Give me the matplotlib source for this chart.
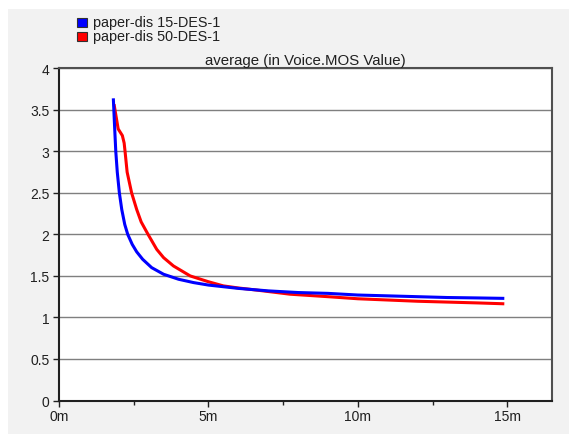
import matplotlib
matplotlib.use("Agg")
import matplotlib.pyplot as plt
from matplotlib.patches import Rectangle
import numpy as np

plt.rcParams['font.family'] = ['Liberation Sans', 'DejaVu Sans']

# time in minutes, value in MOS
t_15 = [1.82, 1.86, 1.90, 1.95, 2.02, 2.10, 2.20, 2.30, 2.45, 2.60, 2.80, 3.10, 3.50,
        4.00, 4.50, 5.00, 6.00, 7.00, 8.00, 9.00, 10.0, 11.0, 12.0, 13.0, 14.0, 14.85]
mos_15 = [3.62, 3.30, 3.00, 2.75, 2.50, 2.30, 2.12, 2.00, 1.88, 1.79, 1.70, 1.60, 1.52,
          1.46, 1.42, 1.39, 1.35, 1.32, 1.30, 1.29, 1.27, 1.26, 1.25, 1.24, 1.235, 1.23]

t_50 = [1.85, 1.98, 2.12, 2.18, 2.21, 2.28, 2.43, 2.60, 2.75, 2.98, 3.27, 3.50, 3.83,
        4.39, 5.00, 5.50, 6.00, 6.60, 7.73, 9.00, 10.0, 11.0, 12.0, 13.0, 14.0, 14.85]
mos_50 = [3.55, 3.27, 3.19, 3.10, 3.00, 2.75, 2.50, 2.30, 2.15, 2.00, 1.82, 1.72, 1.62,
          1.50, 1.43, 1.38, 1.355, 1.33, 1.28, 1.25, 1.225, 1.21, 1.195, 1.185, 1.175, 1.165]

labels = ['paper-dis 15-DES-1', 'paper-dis 50-DES-1']
colors = ['#0000ff', '#ff0000']
title = 'average (in Voice.MOS Value)'
x_ticks = [0, 5, 10, 15]
x_ticklabels = ['0m', '5m', '10m', '15m']
y_ticks = [0, 0.5, 1, 1.5, 2, 2.5, 3, 3.5, 4]
y_ticklabels = ['0', '0.5', '1', '1.5', '2', '2.5', '3', '3.5', '4']

W, H = 569, 435
fig = plt.figure(figsize=(W / 100, H / 100), dpi=100, facecolor='white')

# grey panel behind everything
fig.patches.append(Rectangle((8 / W, 0), 1 - 8 / W, 1 - 10 / H, transform=fig.transFigure,
                             facecolor='#f2f2f2', edgecolor='none', zorder=-10))

left, right, top, bottom = 59, 551.5, 69.3, 401.5
ax = fig.add_axes([left / W, (H - bottom) / H, (right - left) / W, (bottom - top) / H])
ax.set_facecolor('white')
ax.set_zorder(1)

ax.plot(t_15, mos_15, color=colors[0], lw=2.2, zorder=3)
ax.plot(t_50, mos_50, color=colors[1], lw=2.2, zorder=2)

ax.set_xlim(0, 16.48)
ax.set_ylim(0, 4)
ax.set_xticks(x_ticks)
ax.set_xticklabels(x_ticklabels)
ax.set_xticks([2.5, 7.5, 12.5], minor=True)
ax.set_yticks(y_ticks)
ax.set_yticklabels(y_ticklabels)
ax.yaxis.grid(True, color='#7f7f7f', lw=1.0)
ax.set_axisbelow(True)

for s in ax.spines.values():
    s.set_color('#505050')
    s.set_linewidth(1.5)
ax.spines['left'].set_color('#202020')
ax.spines['bottom'].set_color('#202020')

ax.tick_params(axis='both', which='major', length=4, width=1, color='#202020',
               labelsize=10, labelcolor='#202020')
ax.tick_params(axis='y', which='major', pad=3)
ax.tick_params(axis='x', which='major', pad=2)
ax.tick_params(axis='x', which='minor', length=3, width=1, color='#202020')

ax.set_title(title, fontsize=10.8, pad=3, color='#202020')

# legend
for i, (lab, c) in enumerate(zip(labels, colors)):
    yc = 23 + i * 14.5
    fig.patches.append(Rectangle((77 / W, (H - yc - 4.5) / H), 10 / W, 9 / H,
                                 transform=fig.transFigure, facecolor=c,
                                 edgecolor='#303030', lw=0.8, zorder=3))
    fig.text(93 / W, (H - yc) / H, lab, fontsize=10.4, va='center', ha='left', color='#202020')

plt.savefig('out.png', dpi=100, facecolor=fig.get_facecolor())
